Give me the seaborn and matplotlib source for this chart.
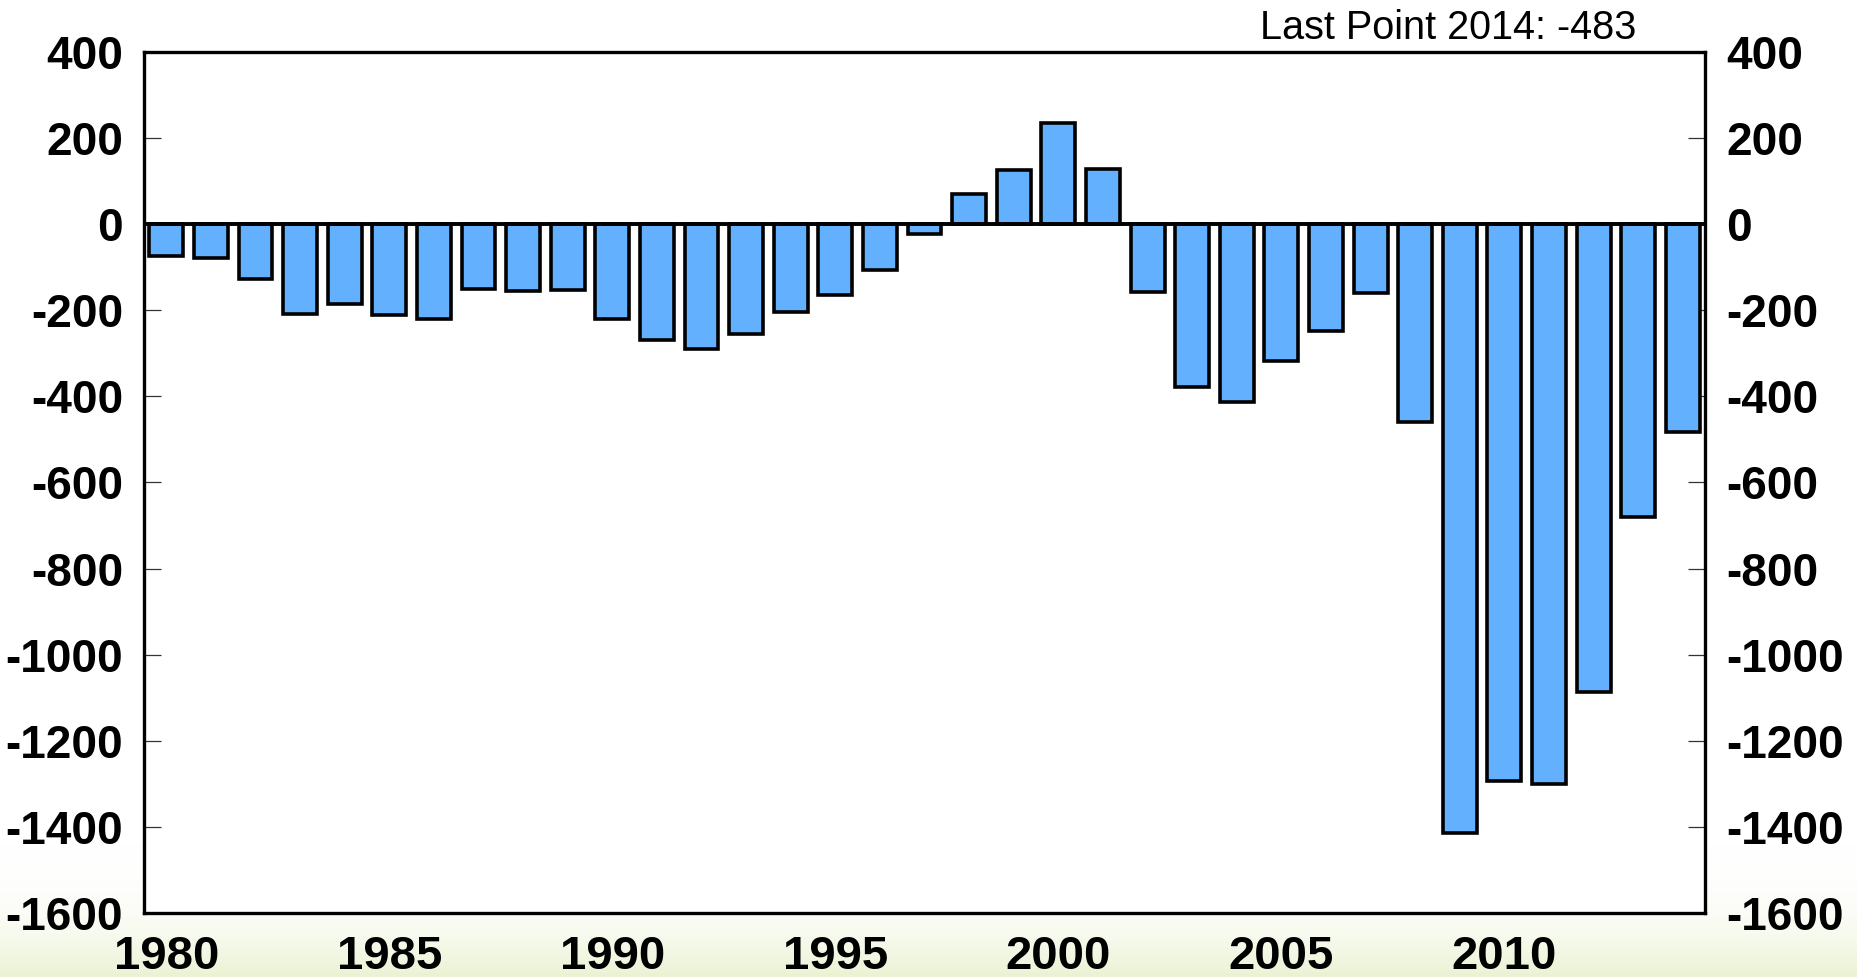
import numpy as np
import pandas as pd
import matplotlib
matplotlib.use("Agg")
import matplotlib.pyplot as plt
from matplotlib.colors import LinearSegmentedColormap
import seaborn as sns

years = list(range(1980, 2015))
balance = [-74, -79, -128, -208, -185, -212, -221, -150, -155, -153,
           -221, -269, -290, -255, -203, -164, -107, -22, 69, 126,
           236, 128, -158, -378, -413, -318, -248, -161, -459, -1413,
           -1294, -1300, -1087, -680, -483]
label_years = [1980, 1985, 1990, 1995, 2000, 2005, 2010]
y_ticks = list(range(-1600, 401, 200))
note = "Last Point 2014: -483"

df = pd.DataFrame({"year": [str(y) for y in years], "value": balance})

sns.set_style("white")
plt.rcParams["font.family"] = ["Liberation Sans", "DejaVu Sans"]
plt.rcParams["text.color"] = "black"
plt.rcParams["xtick.color"] = "black"
plt.rcParams["ytick.color"] = "black"

fig = plt.figure(figsize=(18.58, 9.77), dpi=100)

# soft green band at the bottom of the slide
bg = fig.add_axes([0, 0, 1, 1], zorder=-5)
grad = np.linspace(0, 1, 256).reshape(-1, 1) ** 3
cmap = LinearSegmentedColormap.from_list("bg", ["#FFFFFF", "#EAF2D2"])
bg.imshow(grad, aspect="auto", cmap=cmap, extent=[0, 1, 0, 0.16], origin="upper")
bg.set_xlim(0, 1)
bg.set_ylim(0, 1)
bg.axis("off")

ax = fig.add_axes([0.0775, 0.0655, 0.8402, 0.8813])
ax.set_facecolor("white")

sns.barplot(data=df, x="year", y="value", color="#63B1FE", saturation=1,
            edgecolor="black", linewidth=2.6, width=0.76, ax=ax, zorder=2)

ax.axhline(0, color="black", lw=2.8, zorder=3)
ax.set_ylim(-1600, 400)
ax.set_xlim(-0.5, len(years) - 0.5)
ax.set_xlabel("")
ax.set_ylabel("")

ax.set_yticks(y_ticks)
ax.set_yticklabels([str(v) for v in y_ticks])
ax.tick_params(axis="y", which="major", direction="in", length=12, width=0.9,
               color="#333333", labelcolor="black", left=True, right=True,
               labelleft=True, labelright=True, pad=15,
               labelsize=33)

pos = [years.index(y) for y in label_years]
ax.set_xticks(pos)
ax.set_xticklabels([str(y) for y in label_years])
ax.set_xticks([i + 0.5 for i in range(len(years) - 1)], minor=True)
ax.tick_params(axis="x", which="major", length=0, pad=16, labelsize=34,
               labelcolor="black")
ax.tick_params(axis="x", which="minor", direction="in", length=14,
               width=0.9, color="#333333")

for lab in ax.get_xticklabels() + ax.get_yticklabels():
    lab.set_fontweight("bold")

for s in ax.spines.values():
    s.set_visible(True)
    s.set_color("black")
    s.set_linewidth(2.4)
    s.set_zorder(4)

fig.text(0.8805, 1 - 39 / 977, note, ha="right", va="baseline", fontsize=28.5,
         color="black")

fig.savefig("out.png", dpi=100)
